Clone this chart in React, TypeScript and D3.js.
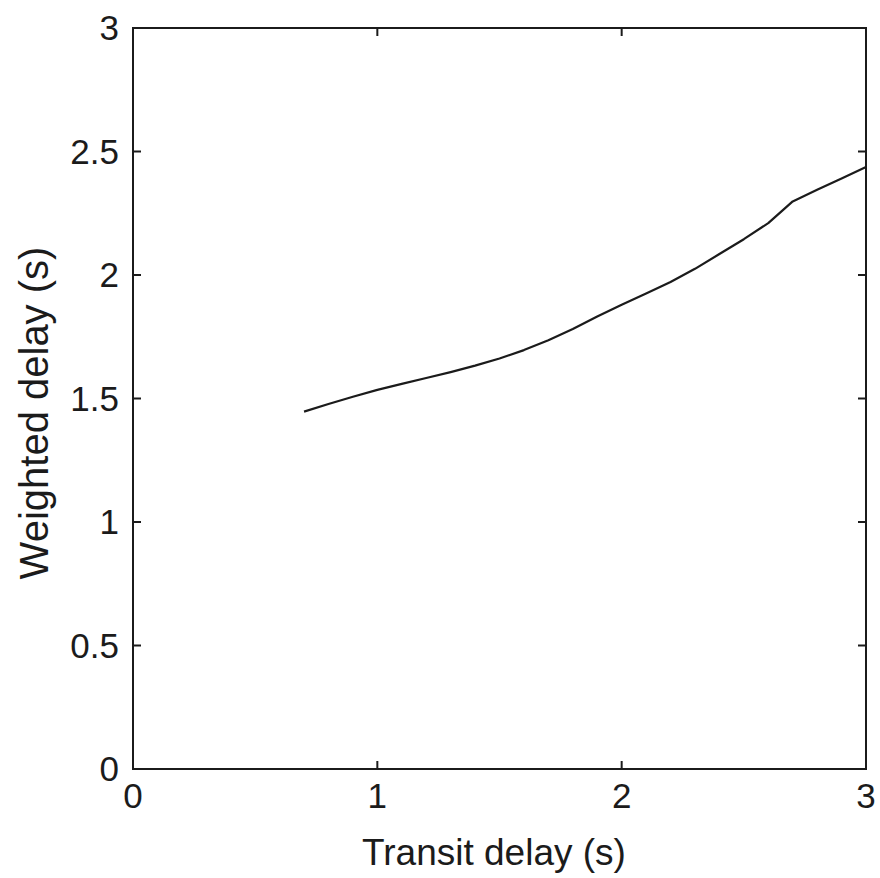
import * as d3 from "d3";
import { useEffect, useRef } from "react";

// transit delay (s) vs weighted delay (s)
const transit = [0.7, 0.8, 0.9, 1.0, 1.1, 1.2, 1.3, 1.4, 1.5, 1.6, 1.7, 1.8, 1.9, 2.0, 2.1, 2.2, 2.3, 2.4, 2.5, 2.6, 2.7, 2.8, 2.9, 3.0];
const weighted = [1.447, 1.478, 1.507, 1.535, 1.559, 1.583, 1.607, 1.633, 1.662, 1.696, 1.736, 1.781, 1.832, 1.88, 1.925, 1.972, 2.025, 2.085, 2.145, 2.21, 2.298, 2.345, 2.391, 2.437];
const xTicks = [0, 1, 2, 3];
const yTicks = [0, 0.5, 1, 1.5, 2, 2.5, 3];

const W = 880;
const H = 878;
const margin = { left: 133, right: 14, top: 28, bottom: 109 };
const font = "'Liberation Sans', Arial, sans-serif";

export default function App() {
  const ref = useRef<SVGSVGElement>(null);

  useEffect(() => {
    const svg = d3.select(ref.current);
    svg.selectAll("*").remove();

    const x = d3.scaleLinear().domain([0, 3]).range([margin.left, W - margin.right]);
    const y = d3.scaleLinear().domain([0, 3]).range([H - margin.bottom, margin.top]);
    const ink = "#1b1b1b";
    const tl = 8;

    const g = svg.append("g");

    // box
    g.append("rect")
      .attr("x", x(0))
      .attr("y", y(3))
      .attr("width", x(3) - x(0))
      .attr("height", y(0) - y(3))
      .attr("fill", "none")
      .attr("stroke", ink)
      .attr("stroke-width", 2);

    // ticks (inward, on all four sides)
    xTicks.forEach((t) => {
      g.append("line").attr("x1", x(t)).attr("x2", x(t)).attr("y1", y(0)).attr("y2", y(0) - tl).attr("stroke", ink).attr("stroke-width", 2);
      g.append("line").attr("x1", x(t)).attr("x2", x(t)).attr("y1", y(3)).attr("y2", y(3) + tl).attr("stroke", ink).attr("stroke-width", 2);
      g.append("text")
        .attr("x", x(t))
        .attr("y", y(0) + 39)
        .attr("text-anchor", "middle")
        .attr("font-family", font)
        .attr("font-size", 35)
        .attr("fill", ink)
        .text(d3.format("~g")(t));
    });
    yTicks.forEach((t) => {
      g.append("line").attr("x1", x(0)).attr("x2", x(0) + tl).attr("y1", y(t)).attr("y2", y(t)).attr("stroke", ink).attr("stroke-width", 2);
      g.append("line").attr("x1", x(3)).attr("x2", x(3) - tl).attr("y1", y(t)).attr("y2", y(t)).attr("stroke", ink).attr("stroke-width", 2);
      g.append("text")
        .attr("x", x(0) - 14)
        .attr("y", y(t) + 12)
        .attr("text-anchor", "end")
        .attr("font-family", font)
        .attr("font-size", 35)
        .attr("fill", ink)
        .text(d3.format("~g")(t));
    });

    // the curve
    const line = d3
      .line<number>()
      .x((_, i) => x(transit[i]))
      .y((d) => y(d));
    g.append("path")
      .datum(weighted)
      .attr("d", line)
      .attr("fill", "none")
      .attr("stroke", ink)
      .attr("stroke-width", 2.2)
      .attr("stroke-linejoin", "round");

    // axis labels
    g.append("text")
      .attr("x", 494)
      .attr("y", 865)
      .attr("text-anchor", "middle")
      .attr("font-family", font)
      .attr("font-size", 37)
      .attr("fill", ink)
      .text("Transit delay (s)");
    g.append("text")
      .attr("transform", `translate(48, 413) rotate(-90)`)
      .attr("text-anchor", "middle")
      .attr("font-family", font)
      .attr("font-size", 40)
      .attr("fill", ink)
      .text("Weighted delay (s)");
  }, []);

  return (
    <svg
      ref={ref}
      width={W}
      height={H}
      style={{ position: "absolute", left: 0, top: 0, background: "#fff" }}
    />
  );
}
